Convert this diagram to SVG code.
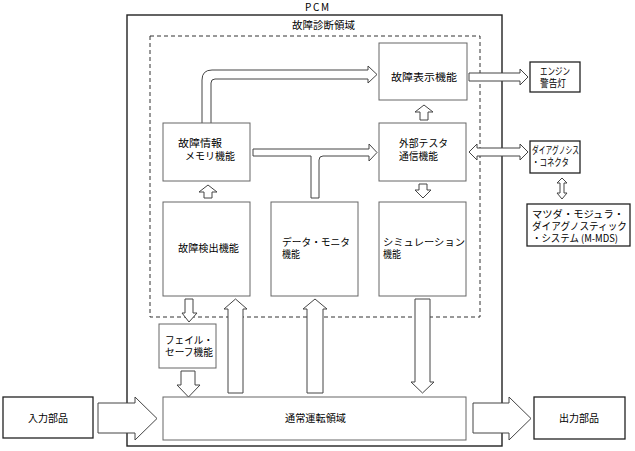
<svg xmlns="http://www.w3.org/2000/svg" width="635" height="451" viewBox="0 0 635 451">
<style>
text{font-family:"Noto Sans CJK JP","Noto Sans",sans-serif;font-size:10px;fill:#000}
.box{fill:#fff;stroke:#666;stroke-width:1}
.obox{fill:#fff;stroke:#222;stroke-width:1.3}
.arr{fill:#fff;stroke:#444;stroke-width:1;stroke-linejoin:miter}
</style>
<rect width="635" height="451" fill="#fff"/>
<g id="pcm">
<rect x="127" y="15" width="375" height="431" fill="none" stroke="#222" stroke-width="1.4"/>
<text x="305" y="11" textLength="24" lengthAdjust="spacing">PCM</text>
</g>
<g id="diag-area">
<rect x="150" y="36" width="330" height="281" fill="none" stroke="#333" stroke-width="1" stroke-dasharray="4,3"/>
<text x="292" y="29" textLength="63" lengthAdjust="spacingAndGlyphs">故障診断領域</text>
</g>
<g id="connectors">
<path class="arr" d="M202,123 L202,80 Q202,70 212,70 L368,70 L368,66 L377,74.5 L368,83 L368,79 L215,79 Q211,79 211,83 L211,123"/>
<path class="arr" d="M253,149 L369,149 L369,144 L377,152.5 L369,161 L369,156 L323,156 Q319,156 319,160 L319,198 L311,198 L311,156 L253,156 Z"/>
<path class="arr" d="M204,198 L204,192 L199,192 L208,185 L217,192 L212,192 L212,198 Z"/>
<path class="arr" d="M420,120 L420,112 L415,112 L424,105 L433,112 L428,112 L428,120 Z"/>
<path class="arr" d="M419,184 L427,184 L427,190 L431,190 L423,198 L415,190 L419,190 Z"/>
<path class="arr" d="M469,73 L520,73 L520,69 L528,77 L520,85 L520,81 L469,81 Z"/>
<path class="arr" d="M469,152 L477,144 L477,148 L520,148 L520,144 L528,152 L520,160 L520,156 L477,156 L477,160 Z"/>
<path class="arr" d="M562,178 L567,183 L564,183 L564,193 L567,193 L562,199 L557,193 L560,193 L560,183 L557,183 Z"/>
<path class="arr" d="M98,403 L135,403 L135,397 L157,418.5 L135,440 L135,433 L98,433 Z"/>
<path class="arr" d="M473,403 L509,403 L509,397 L531,418.5 L509,440 L509,433 L473,433 Z"/>
<path class="arr" d="M185,299 L193,299 L193,313 L197,313 L189,322 L182,313 L185,313 Z"/>
<path class="arr" d="M181,371 L195,371 L195,385 L200,385 L188.5,397 L177,385 L181,385 Z"/>
<path class="arr" d="M228,393 L228,309 L224,309 L235.5,299 L247,309 L243,309 L243,393 Z"/>
<path class="arr" d="M307,393 L307,309 L303,309 L315,299 L327,309 L323,309 L323,393 Z"/>
<path class="arr" d="M415,299 L430,299 L430,382 L434,382 L422.5,393 L411,382 L415,382 Z"/>
</g>
<g id="n-hyoji">
<rect class="box" x="379" y="43" width="88" height="57"/>
<text x="391" y="81" textLength="66" lengthAdjust="spacingAndGlyphs">故障表示機能</text>
</g>
<g id="n-memory">
<rect class="box" x="163" y="123" width="87" height="58"/>
<text x="178" y="147" textLength="44" lengthAdjust="spacingAndGlyphs">故障情報</text>
<text x="185" y="160" textLength="50" lengthAdjust="spacingAndGlyphs">メモリ機能</text>
</g>
<g id="n-tester">
<rect class="box" x="379" y="123" width="87" height="58"/>
<text x="399" y="147" textLength="49" lengthAdjust="spacingAndGlyphs">外部テスタ</text>
<text x="399" y="160" textLength="39" lengthAdjust="spacingAndGlyphs">通信機能</text>
</g>
<g id="n-kenshutsu">
<rect class="box" x="163" y="202" width="87" height="94"/>
<text x="178" y="252" textLength="61" lengthAdjust="spacingAndGlyphs">故障検出機能</text>
</g>
<g id="n-monitor">
<rect class="box" x="271" y="202" width="87" height="94"/>
<text x="282" y="246" textLength="68" lengthAdjust="spacingAndGlyphs">データ・モニタ</text>
<text x="282" y="258" textLength="18" lengthAdjust="spacingAndGlyphs">機能</text>
</g>
<g id="n-sim">
<rect class="box" x="379" y="202" width="87" height="94"/>
<text x="383" y="246" textLength="82" lengthAdjust="spacingAndGlyphs">シミュレーション</text>
<text x="383" y="258" textLength="18" lengthAdjust="spacingAndGlyphs">機能</text>
</g>
<g id="n-engine">
<rect class="obox" x="530" y="62" width="50" height="30"/>
<text x="540" y="75" textLength="30" lengthAdjust="spacingAndGlyphs">エンジン</text>
<text x="540" y="87" textLength="26" lengthAdjust="spacingAndGlyphs">警告灯</text>
</g>
<g id="n-connector">
<rect class="obox" x="530" y="141" width="50" height="32"/>
<text x="532" y="154" textLength="47" lengthAdjust="spacingAndGlyphs">ダイアグノシス</text>
<text x="532" y="166" textLength="37" lengthAdjust="spacingAndGlyphs">・コネクタ</text>
</g>
<g id="n-mmds">
<rect class="obox" x="527" y="204" width="103" height="42"/>
<text x="532" y="218" textLength="92" lengthAdjust="spacingAndGlyphs">マツダ・モジュラ・</text>
<text x="532" y="230" textLength="95" lengthAdjust="spacingAndGlyphs">ダイアグノスティック</text>
<text x="532" y="242" textLength="86" lengthAdjust="spacingAndGlyphs">・システム (M-MDS)</text>
</g>
<g id="n-failsafe">
<rect class="box" x="159" y="324" width="57" height="44"/>
<text x="165" y="344" textLength="48" lengthAdjust="spacingAndGlyphs">フェイル・</text>
<text x="165" y="356" textLength="48" lengthAdjust="spacingAndGlyphs">セーフ機能</text>
</g>
<g id="n-tsujo">
<rect class="box" x="163" y="397" width="303" height="43"/>
<text x="285" y="422" textLength="61" lengthAdjust="spacingAndGlyphs">通常運転領域</text>
</g>
<g id="n-input">
<rect class="obox" x="3" y="397" width="90" height="41"/>
<text x="28" y="422" textLength="40" lengthAdjust="spacingAndGlyphs">入力部品</text>
</g>
<g id="n-output">
<rect class="obox" x="534" y="397" width="91" height="42"/>
<text x="559" y="422" textLength="40" lengthAdjust="spacingAndGlyphs">出力部品</text>
</g>
</svg>
